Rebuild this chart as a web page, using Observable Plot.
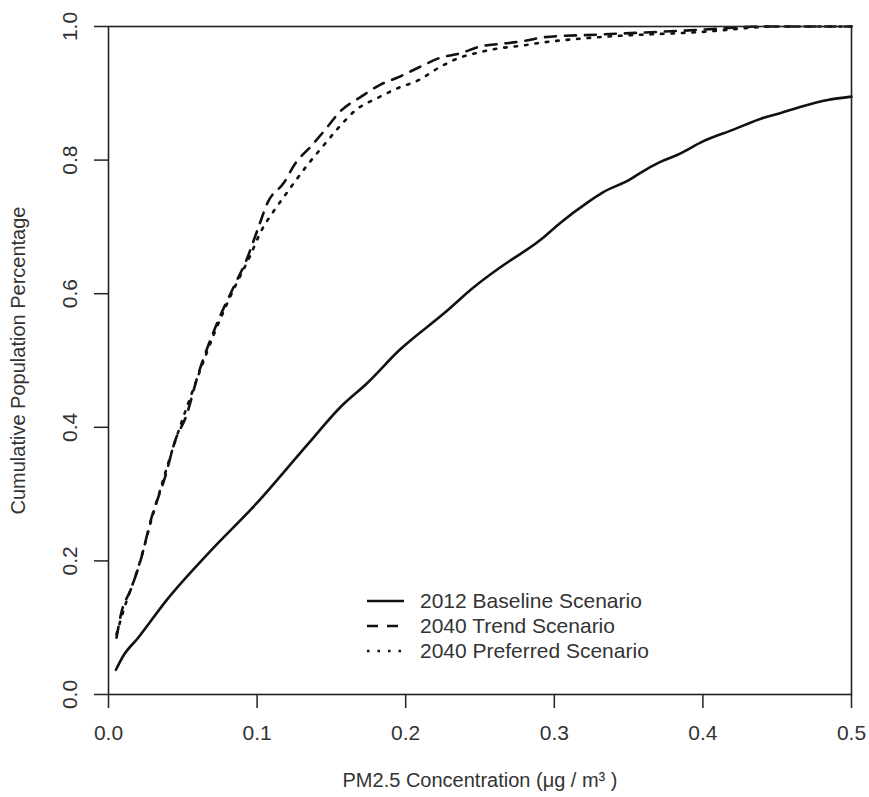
<!DOCTYPE html>
<html><head><meta charset="utf-8">
<script src="https://cdn.jsdelivr.net/npm/d3@7"></script>
<script src="https://cdn.jsdelivr.net/npm/@observablehq/plot@0.6"></script>
<style>body{margin:0;background:#fff} #chart svg{display:block}</style>
</head><body><div id="chart"></div><script>
// ---- data ----
const seriesNames = ["2012 Baseline Scenario", "2040 Trend Scenario", "2040 Preferred Scenario"];

const baselineX = [0.005,0.010,0.020,0.039,0.067,0.0996,0.1346,0.156,0.174,0.196,0.226,0.246,0.264,0.291,0.304,0.322,0.333,0.351,0.358,0.371,0.383,0.400,0.421,0.439,0.450,0.466,0.484,0.500];
const baselineY = [0.037,0.058,0.085,0.141,0.211,0.286,0.376,0.430,0.466,0.516,0.571,0.610,0.640,0.681,0.706,0.736,0.752,0.771,0.781,0.797,0.808,0.828,0.846,0.862,0.869,0.880,0.890,0.895];

const trendX = [0.0054,0.0087,0.0148,0.0215,0.029,0.038,0.045,0.052,0.0606,0.072,0.0855,0.092,0.101,0.107,0.118,0.126,0.136,0.146,0.156,0.170,0.183,0.196,0.210,0.223,0.237,0.250,0.264,0.279,0.293,0.331,0.398,0.440,0.500];
const trendY = [0.085,0.123,0.156,0.200,0.265,0.325,0.381,0.415,0.481,0.550,0.616,0.646,0.700,0.736,0.766,0.796,0.820,0.846,0.873,0.895,0.913,0.925,0.940,0.953,0.960,0.970,0.974,0.978,0.984,0.988,0.995,1.000,1.000];

const preferredX = [0.0054,0.010,0.020,0.030,0.045,0.060,0.072,0.085,0.095,0.103,0.111,0.120,0.134,0.144,0.155,0.167,0.181,0.195,0.209,0.222,0.236,0.249,0.262,0.277,0.292,0.330,0.400,0.450,0.500];
const preferredY = [0.090,0.125,0.190,0.270,0.380,0.475,0.545,0.610,0.655,0.695,0.723,0.751,0.793,0.820,0.849,0.876,0.893,0.908,0.920,0.938,0.953,0.961,0.967,0.971,0.976,0.984,0.992,1.000,1.000];

const xTicks = [0, 0.1, 0.2, 0.3, 0.4, 0.5];
const yTicks = [0, 0.2, 0.4, 0.6, 0.8, 1.0];
const xTitle = "PM2.5 Concentration (\u03BCg / m\u00B3 )";
const yTitle = "Cumulative Population Percentage";

// ---- styles ----
const dashes = [null, "11,9", "2.5,8"];
const font = "'Liberation Sans', Arial, sans-serif";
const ink = "#111";

const toRows = (xs, ys, s) => xs.map((x, i) => ({x, y: ys[i], s}));
const rows = [
  toRows(baselineX, baselineY, seriesNames[0]),
  toRows(trendX, trendY, seriesNames[1]),
  toRows(preferredX, preferredY, seriesNames[2])
];

const chart = Plot.plot({
  width: 869, height: 797,
  marginLeft: 108, marginRight: 18, marginTop: 26, marginBottom: 103,
  style: {fontFamily: font, fontSize: "21px", color: "#222", background: "#fff"},
  x: {domain: [0, 0.5], label: null},
  y: {domain: [0, 1], label: null},
  marks: [
    ...rows.map((r, i) => Plot.line(r, {x: "x", y: "y", stroke: ink, strokeWidth: 2.6, strokeDasharray: dashes[i], strokeLinejoin: "round", curve: "monotone-x"})),
    Plot.frame({stroke: "#222", strokeWidth: 1.6}),
    Plot.axisX(xTicks, {label: null, tickSize: 14, tickPadding: 17, tickFormat: d3.format(".1f"), fontSize: 21, fill: "#333", stroke: "#222", strokeWidth: 1.5}),
    Plot.axisY(yTicks, {label: null, tickSize: 14, tickFormat: () => "", stroke: "#222", strokeWidth: 1.5}),
    Plot.text(yTicks, {y: d => d, text: d => d3.format(".1f")(d), frameAnchor: "left", dx: -38, rotate: -90, textAnchor: "middle", lineAnchor: "middle", fontSize: 21, fill: "#333"}),
    Plot.text([yTitle], {frameAnchor: "left", dx: -90, rotate: -90, textAnchor: "middle", lineAnchor: "middle", fontSize: 20, fill: "#333"}),
    Plot.text([xTitle], {frameAnchor: "bottom", dy: 86, textAnchor: "middle", lineAnchor: "middle", fontSize: 20, fill: "#333"})
  ]
});

// ---- legend (inside the plot, lower middle) ----
const legendLayout = {lineX1: 367, lineX2: 404, textX: 420, rowY: [601, 626, 651]};
const svg = d3.select(chart);
const lg = svg.append("g").attr("font-family", font).attr("font-size", 21).attr("fill", "#333").attr("text-anchor", "start");
seriesNames.forEach((name, i) => {
  const y = legendLayout.rowY[i];
  lg.append("line").attr("x1", legendLayout.lineX1).attr("x2", legendLayout.lineX2).attr("y1", y).attr("y2", y)
    .attr("stroke", ink).attr("stroke-width", 2.6).attr("stroke-dasharray", dashes[i]);
  lg.append("text").attr("x", legendLayout.textX).attr("y", y).attr("dy", "0.35em").attr("text-anchor", "start").text(name);
});

document.getElementById("chart").append(chart);
</script></body></html>
